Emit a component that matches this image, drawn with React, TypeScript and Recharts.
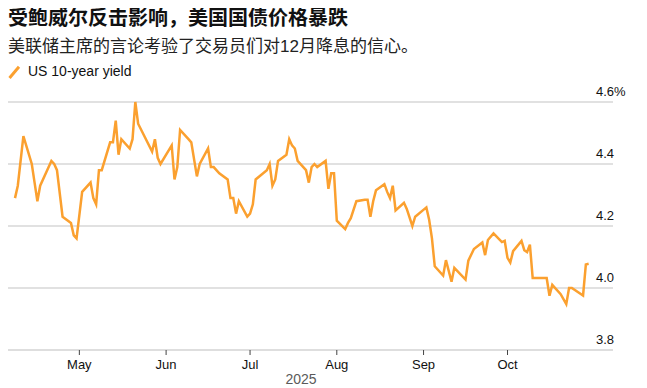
import { CartesianGrid, Line, LineChart, XAxis, YAxis } from "recharts";

const title = "受鲍威尔反击影响，美国国债价格暴跌";
const subtitle = "美联储主席的言论考验了交易员们对12月降息的信心。";
const seriesName = "US 10-year yield";
const yearLabel = "2025";

// trading dates (MM-DD, 2025) and yields
const dates = [
  "04-08", "04-09", "04-11", "04-14", "04-15", "04-16", "04-17", "04-21", "04-22", "04-23",
  "04-25", "04-28", "04-29", "04-30", "05-02", "05-05", "05-06", "05-07", "05-08", "05-09",
  "05-12", "05-13", "05-14", "05-15", "05-16", "05-19", "05-20", "05-21", "05-22", "05-27",
  "05-28", "05-29", "05-30", "06-03", "06-04", "06-05", "06-06", "06-09", "06-10", "06-12",
  "06-13", "06-16", "06-17", "06-18", "06-20", "06-23", "06-24", "06-25", "06-26", "06-27",
  "06-30", "07-01", "07-02", "07-03", "07-07", "07-08", "07-09", "07-10", "07-11", "07-14",
  "07-15", "07-16", "07-17", "07-18", "07-21", "07-22", "07-23", "07-24", "07-25", "07-28",
  "07-29", "07-30", "07-31", "08-01", "08-04", "08-05", "08-06", "08-08", "08-11", "08-12",
  "08-13", "08-14", "08-15", "08-18", "08-19", "08-20", "08-21", "08-22", "08-25", "08-26",
  "08-28", "08-29", "09-02", "09-03", "09-04", "09-05", "09-08", "09-09", "09-11", "09-12",
  "09-16", "09-17", "09-19", "09-22", "09-23", "09-24", "09-26", "09-29", "09-30", "10-01",
  "10-02", "10-03", "10-06", "10-07", "10-08", "10-09", "10-10", "10-14", "10-15", "10-16",
  "10-17", "10-20", "10-22", "10-23", "10-24", "10-28", "10-29", "10-30",
];

const yields = [
  4.29, 4.33, 4.49, 4.4, 4.34, 4.28, 4.33, 4.41, 4.4, 4.38,
  4.23, 4.21, 4.17, 4.16, 4.31, 4.34, 4.29, 4.27, 4.38, 4.38,
  4.47, 4.47, 4.54, 4.43, 4.48, 4.45, 4.48, 4.6, 4.53, 4.44,
  4.48, 4.42, 4.4, 4.46, 4.35, 4.39, 4.51, 4.48, 4.47, 4.36,
  4.4, 4.45, 4.39, 4.39, 4.37, 4.35, 4.29, 4.29, 4.24, 4.28,
  4.23, 4.24, 4.27, 4.35, 4.38, 4.4, 4.33, 4.35, 4.41, 4.43,
  4.48, 4.46, 4.45, 4.41, 4.38, 4.34, 4.39, 4.4, 4.39, 4.41,
  4.32, 4.37, 4.37, 4.217, 4.19, 4.21, 4.225, 4.28, 4.285, 4.285,
  4.23, 4.28, 4.315, 4.335, 4.31, 4.29, 4.33, 4.25, 4.275, 4.255,
  4.2, 4.23, 4.26, 4.22, 4.16, 4.07, 4.04, 4.09, 4.02, 4.065,
  4.027, 4.088, 4.126, 4.147, 4.106, 4.155, 4.176, 4.148, 4.152, 4.097,
  4.082, 4.119, 4.152, 4.122, 4.116, 4.14, 4.032, 4.032, 4.032, 3.975,
  4.01, 3.98, 3.948, 4.0, 4.0, 3.976, 4.076, 4.078,
];

const monthTicks = ["05-01", "06-01", "07-01", "08-01", "09-01", "10-01"];
const monthLabels = ["May", "Jun", "Jul", "Aug", "Sep", "Oct"];
const yTicks = [3.8, 4.0, 4.2, 4.4, 4.6];

const ORANGE = "#FBA02F";
const FONT = '"Liberation Sans", Arial, "Noto Sans CJK SC", sans-serif';

// days since May 1, 2025
const toDay = (md: string) => {
  const [m, d] = md.split("-").map(Number);
  return (Date.UTC(2025, m - 1, d) - Date.UTC(2025, 4, 1)) / 86400000;
};

const data = dates.map((d, i) => ({ day: toDay(d), value: yields[i] }));
const xTicks = monthTicks.map(toDay);

const CHART_W = 631;
const CHART_H = 308;
const PLOT_RIGHT = 605;

function YTick(props: any) {
  const { y, payload } = props;
  const v = payload.value as number;
  const label = v === 4.6 ? "4.6%" : v.toFixed(1);
  return (
    <text x={PLOT_RIGHT - 17} y={y - 6.5} fontSize={13} fill="#111" fontFamily={FONT} textAnchor="start">
      {label}
    </text>
  );
}

function XTick(props: any) {
  const { x, y, payload } = props;
  const idx = xTicks.indexOf(payload.value);
  return (
    <text x={x} y={y} dy={12} fontSize={13} fill="#111" fontFamily={FONT} textAnchor="middle">
      {monthLabels[idx] ?? ""}
    </text>
  );
}

export default function App() {
  return (
    <div style={{ position: "relative", width: CHART_W, height: 380, fontFamily: FONT, color: "#111" }}>
      <div style={{ position: "absolute", left: 0, top: -2, fontSize: 20, lineHeight: "24px", fontWeight: 700, whiteSpace: "nowrap" }}>
        {title}
      </div>
      <div style={{ position: "absolute", left: 0, top: 27, fontSize: 17, lineHeight: "24px", color: "#222", whiteSpace: "nowrap" }}>
        {subtitle}
      </div>
      <svg style={{ position: "absolute", left: 0, top: 54 }} width={14} height={20}>
        <line x1={1.5} y1={16} x2={11} y2={4.7} stroke={ORANGE} strokeWidth={3} />
      </svg>
      <div style={{ position: "absolute", left: 20, top: 54, fontSize: 14, lineHeight: "18px", whiteSpace: "nowrap" }}>
        {seriesName}
      </div>
      <div style={{ position: "absolute", left: 0, top: 72 }}>
        <LineChart width={CHART_W} height={CHART_H} data={data} margin={{ top: 22, right: 0, bottom: 0, left: 0 }}>
          <CartesianGrid horizontal vertical={false} stroke="#e1e1e1" strokeWidth={2} />
          <XAxis
            dataKey="day"
            type="number"
            domain={[-25.5, 190.7]}
            ticks={xTicks}
            height={38}
            axisLine={{ stroke: "#dedede", strokeWidth: 2 }}
            tickLine={{ stroke: "#444" }}
            tickSize={5}
            tick={<XTick />}
            interval={0}
          />
          <YAxis
            orientation="right"
            domain={[3.8, 4.6]}
            ticks={yTicks}
            width={26}
            axisLine={false}
            tickLine={false}
            tick={<YTick />}
            interval={0}
          />
          <Line
            type="linear"
            dataKey="value"
            stroke={ORANGE}
            strokeWidth={2.5}
            dot={false}
            isAnimationActive={false}
          />
        </LineChart>
      </div>
      <div style={{ position: "absolute", zIndex: 2, left: 268, top: 364, width: 50, textAlign: "center", fontSize: 14, lineHeight: "14px", color: "#5a5a5a" }}>
        {yearLabel}
      </div>
    </div>
  );
}
